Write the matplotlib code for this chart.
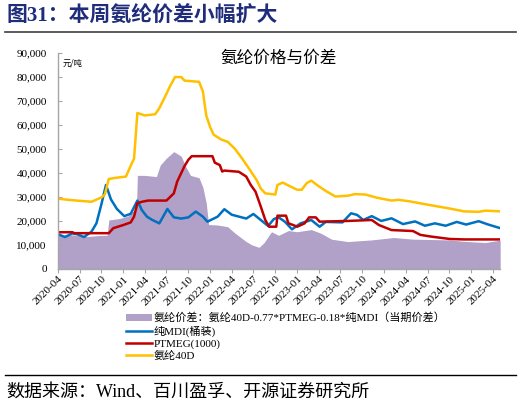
import matplotlib
matplotlib.use("Agg")
import matplotlib.pyplot as plt
import matplotlib.dates as mdates
import matplotlib.ticker as mticker
import pandas as pd

FONT = ['Liberation Serif', 'Noto Sans CJK SC']
plt.rcParams['font.family'] = FONT
plt.rcParams['axes.unicode_minus'] = False

# ---- data (元/吨)
spandex_dates = ["2020-04-01", "2020-05-15", "2020-07-01", "2020-08-20", "2020-10-01", "2020-10-15",
                 "2020-11-01", "2020-12-01", "2021-01-12", "2021-02-01", "2021-02-15", "2021-03-01",
                 "2021-04-01", "2021-05-15", "2021-06-01", "2021-07-01", "2021-07-15", "2021-08-06",
                 "2021-09-01", "2021-09-15", "2021-11-15", "2021-12-01", "2021-12-15", "2022-01-01",
                 "2022-01-15", "2022-02-15", "2022-03-15", "2022-04-15", "2022-05-15", "2022-06-15",
                 "2022-07-15", "2022-08-01", "2022-08-20", "2022-10-01", "2022-10-10", "2022-11-01",
                 "2022-12-01", "2023-01-01", "2023-01-20", "2023-02-10", "2023-03-01", "2023-04-01",
                 "2023-05-01", "2023-06-10", "2023-08-01", "2023-09-01", "2023-10-15", "2023-12-01",
                 "2024-02-01", "2024-03-01", "2024-04-15", "2024-07-01", "2024-10-01", "2024-12-01",
                 "2025-02-01", "2025-03-01", "2025-05-02"]
spandex = [29300, 28800, 28400, 28000, 29800, 31000,
           37500, 38000, 38500, 43000, 46000, 65000,
           64000, 64500, 67000, 73000, 76000, 80000,
           80000, 78500, 78000, 74000, 64000, 59000,
           56000, 54000, 53000, 50000, 46000, 41500,
           37000, 33500, 31500, 31000, 35000, 36000,
           34500, 33000, 33000, 35800, 36800, 34500,
           32500, 30200, 30500, 31200, 31000, 29700,
           28500, 28800, 28200, 26800, 25200, 24000,
           23800, 24300, 24000]

mdi_dates = ["2020-04-01", "2020-05-01", "2020-06-01", "2020-06-20", "2020-07-20", "2020-08-20",
             "2020-09-10", "2020-10-01", "2020-10-20", "2020-11-10", "2020-12-05", "2021-01-05",
             "2021-02-01", "2021-03-01", "2021-03-20", "2021-04-10", "2021-05-01", "2021-06-01",
             "2021-07-05", "2021-08-01", "2021-09-01", "2021-10-01", "2021-11-01", "2021-12-01",
             "2021-12-20", "2022-02-01", "2022-03-01", "2022-04-01", "2022-06-01", "2022-07-01",
             "2022-08-01", "2022-09-01", "2022-09-25", "2022-10-15", "2022-11-10", "2022-12-10",
             "2023-01-15", "2023-03-01", "2023-04-05", "2023-05-01", "2023-07-10", "2023-08-15",
             "2023-09-10", "2023-10-05", "2023-11-10", "2023-12-20", "2024-02-01", "2024-03-20",
             "2024-05-10", "2024-06-20", "2024-08-01", "2024-09-15", "2024-11-01", "2024-12-10",
             "2025-02-01", "2025-03-10", "2025-05-02"]
mdi = [14500, 13300, 14800, 14500, 13300, 15500,
       19000, 27000, 35000, 29000, 25000, 22000,
       23000, 28500, 24500, 21800, 20500, 19000,
       25000, 21500, 21000, 21500, 23900, 21800,
       19700, 21800, 24900, 22600, 21000, 22900,
       20400, 17900, 20800, 21500, 19700, 16500,
       19000, 20400, 17600, 19600, 19400, 23200,
       22500, 20400, 22000, 20000, 21100, 18700,
       19800, 18000, 19000, 18000, 19600, 18500,
       19900, 18600, 17000]

ptmeg_dates = ["2020-04-01", "2020-06-01", "2020-06-10", "2020-11-01", "2020-11-20", "2021-01-01",
               "2021-02-01", "2021-02-15", "2021-03-01", "2021-03-20", "2021-04-15", "2021-07-01",
               "2021-08-01", "2021-08-15", "2021-09-15", "2021-10-01", "2021-10-15", "2022-01-10",
               "2022-01-20", "2022-02-10", "2022-02-20", "2022-03-01", "2022-05-01", "2022-06-01",
               "2022-06-20", "2022-07-10", "2022-08-01", "2022-08-20", "2022-09-05", "2022-10-05",
               "2022-10-10", "2022-11-15", "2022-11-25", "2022-12-15", "2023-01-01", "2023-02-01",
               "2023-02-20", "2023-03-20", "2023-04-05", "2023-08-01", "2023-11-10", "2023-12-10",
               "2024-02-01", "2024-05-01", "2024-06-01", "2024-07-15", "2024-10-01", "2024-12-01",
               "2025-05-02"]
ptmeg = [15300, 15300, 14900, 14900, 17000, 18300,
         19400, 21800, 27400, 28000, 28500, 28500,
         31500, 36400, 42900, 45500, 47000, 47000,
         44300, 43300, 40600, 41000, 40500, 38500,
         35000, 32200, 26000, 20400, 17600, 17600,
         22200, 22200, 19000, 18300, 17600, 19000,
         21500, 21500, 19700, 20000, 20400, 18300,
         16200, 15800, 14200, 13500, 12500, 12300,
         12300]

spread_dates = ["2020-04-01", "2020-06-01", "2020-08-01", "2020-10-01", "2020-10-25", "2020-11-01",
                "2020-12-15", "2021-01-20", "2021-02-10", "2021-02-25", "2021-03-01", "2021-04-01",
                "2021-05-20", "2021-06-05", "2021-07-01", "2021-08-01", "2021-09-01", "2021-09-20",
                "2021-10-10", "2021-11-15", "2021-12-01", "2021-12-15", "2021-12-25", "2022-02-01",
                "2022-03-15", "2022-04-15", "2022-06-01", "2022-06-25", "2022-07-25", "2022-08-15",
                "2022-09-15", "2022-10-15", "2022-11-25", "2023-01-01", "2023-03-01", "2023-04-10",
                "2023-05-25", "2023-08-01", "2023-11-10", "2024-02-10", "2024-05-01", "2024-10-01",
                "2024-12-01", "2025-03-01", "2025-05-02"]
spread = [14000, 14200, 13500, 14000, 14000, 20400,
          21000, 22000, 24000, 25000, 39000, 39000,
          38500, 43300, 46200, 48900, 47000, 42600,
          39000, 38000, 34000, 27500, 18500, 18300,
          17600, 14900, 11400, 10000, 9000, 11000,
          15500, 14000, 16000, 15500, 16400, 14900,
          12400, 11400, 12100, 13100, 12400, 12100,
          11500, 11000, 12000]

legend_labels = ["氨纶价差：氨纶40D-0.77*PTMEG-0.18*纯MDI（当期价差）",
                 "纯MDI(桶装)", "PTMEG(1000)", "氨纶40D"]

# ---- figure
fig = plt.figure(figsize=(5.21, 4.05), dpi=100)
ax = fig.add_axes([0.111, 0.336, 0.849, 0.533])

d_spread = pd.to_datetime(spread_dates)
ax.fill_between(d_spread, 0, spread, color="#b1a0c7", lw=0, label=legend_labels[0])
ax.plot(pd.to_datetime(mdi_dates), mdi, color="#0070c0", lw=1.8, label=legend_labels[1])
ax.plot(pd.to_datetime(ptmeg_dates), ptmeg, color="#c00000", lw=1.8, label=legend_labels[2])
ax.plot(pd.to_datetime(spandex_dates), spandex, color="#ffc000", lw=1.8, label=legend_labels[3])

ax.set_ylim(0, 90000)
ax.set_xlim(pd.Timestamp("2020-04-01"), pd.Timestamp("2025-05-02"))
ax.yaxis.set_major_locator(mticker.MultipleLocator(10000))
ax.yaxis.set_major_formatter(mticker.FuncFormatter(lambda v, p: f"{int(v):,}"))
ax.xaxis.set_major_locator(mdates.MonthLocator(bymonth=[1, 4, 7, 10]))
ax.xaxis.set_major_formatter(mdates.DateFormatter("%Y-%m"))

for s in ["top", "right"]:
    ax.spines[s].set_visible(False)
for s in ["left", "bottom"]:
    ax.spines[s].set_color("#a6a6a6")
    ax.spines[s].set_linewidth(1.0)
ax.tick_params(axis="y", direction="in", length=3, color="#a6a6a6", labelsize=8, pad=8)
ax.tick_params(axis="x", direction="out", length=3, color="#a6a6a6", labelsize=8, pad=1)
for lab in ax.get_xticklabels():
    lab.set_rotation(45)
    lab.set_ha("right")
    lab.set_rotation_mode("anchor")

ax.text(0.01, 0.975, "元/吨", transform=ax.transAxes, fontsize=6, va="top", ha="left",
        family=['Noto Sans CJK SC'])
ax.text(0.5, 0.975, "氨纶价格与价差", transform=ax.transAxes, fontsize=12, va="center", ha="center",
        family=['Noto Sans CJK SC'])

leg = fig.legend(loc="upper left", bbox_to_anchor=(0.242, 0.228), frameon=False, fontsize=8,
                 handlelength=2.3, handleheight=0.6, handletextpad=0.2, labelspacing=0.2,
                 borderaxespad=0, borderpad=0)

# report header / footer
fig.text(0.012, 0.985, "图31：本周氨纶价差小幅扩大", fontsize=15, fontweight="bold",
         color="#1f2c7a", va="top", ha="left", family=FONT)
fig.add_artist(plt.Line2D([0.01, 0.99], [0.922, 0.922], color="#404040", lw=1.2))
fig.add_artist(plt.Line2D([0.01, 0.99], [0.074, 0.074], color="#000000", lw=1.0))
fig.text(0.012, 0.032, "数据来源：Wind、百川盈孚、开源证券研究所", fontsize=13,
         va="center", ha="left", family=FONT)

fig.savefig("out.png", dpi=100)
